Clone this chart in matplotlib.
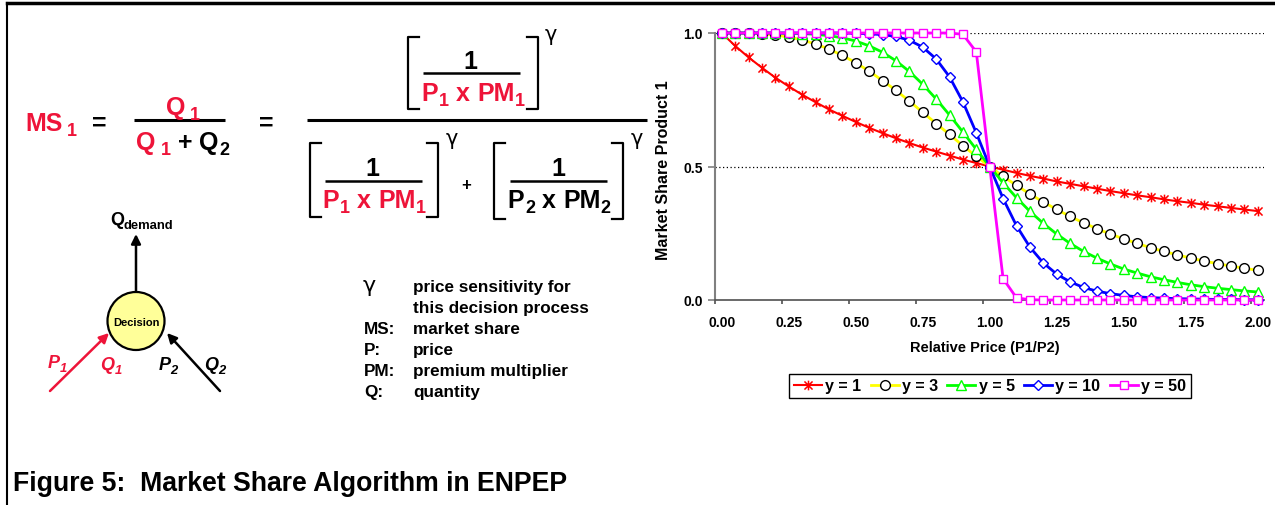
import matplotlib
matplotlib.use("Agg")
import matplotlib.pyplot as plt
from matplotlib.patches import Ellipse
from matplotlib.path import Path

plt.rcParams['font.family'] = ['Liberation Sans', 'DejaVu Sans']

# ---- data ----
rel_price = [0.00, 0.05, 0.10, 0.15, 0.20, 0.25, 0.30, 0.35, 0.40, 0.45,
             0.50, 0.55, 0.60, 0.65, 0.70, 0.75, 0.80, 0.85, 0.90, 0.95,
             1.00, 1.05, 1.10, 1.15, 1.20, 1.25, 1.30, 1.35, 1.40, 1.45,
             1.50, 1.55, 1.60, 1.65, 1.70, 1.75, 1.80, 1.85, 1.90, 1.95, 2.00]

share_g1 = [1.000, 0.952, 0.909, 0.870, 0.833, 0.800, 0.769, 0.741, 0.714, 0.690,
            0.667, 0.645, 0.625, 0.606, 0.588, 0.571, 0.556, 0.541, 0.526, 0.513,
            0.500, 0.488, 0.476, 0.465, 0.455, 0.444, 0.435, 0.426, 0.417, 0.408,
            0.400, 0.392, 0.385, 0.377, 0.370, 0.364, 0.357, 0.351, 0.345, 0.339, 0.333]

share_g3 = [1.000, 1.000, 0.999, 0.997, 0.992, 0.985, 0.974, 0.959, 0.940, 0.916,
            0.889, 0.857, 0.822, 0.785, 0.745, 0.703, 0.661, 0.620, 0.578, 0.538,
            0.500, 0.463, 0.429, 0.397, 0.367, 0.339, 0.313, 0.289, 0.267, 0.247,
            0.229, 0.212, 0.196, 0.182, 0.169, 0.157, 0.146, 0.136, 0.127, 0.119, 0.111]

share_g5 = [1.000, 1.000, 1.000, 1.000, 1.000, 0.999, 0.998, 0.995, 0.990, 0.982,
            0.970, 0.952, 0.928, 0.896, 0.856, 0.808, 0.753, 0.693, 0.629, 0.564,
            0.500, 0.439, 0.383, 0.332, 0.287, 0.247, 0.212, 0.182, 0.157, 0.135,
            0.116, 0.101, 0.087, 0.076, 0.066, 0.057, 0.050, 0.044, 0.039, 0.034, 0.030]

share_g10 = [1.000, 1.000, 1.000, 1.000, 1.000, 1.000, 1.000, 1.000, 1.000, 1.000,
             0.999, 0.997, 0.994, 0.987, 0.973, 0.947, 0.903, 0.836, 0.742, 0.626,
             0.500, 0.380, 0.278, 0.198, 0.139, 0.097, 0.068, 0.047, 0.033, 0.024,
             0.017, 0.012, 0.009, 0.007, 0.005, 0.004, 0.003, 0.002, 0.002, 0.001, 0.001]

share_g50 = [1.000, 1.000, 1.000, 1.000, 1.000, 1.000, 1.000, 1.000, 1.000, 1.000,
             1.000, 1.000, 1.000, 1.000, 1.000, 1.000, 1.000, 1.000, 0.995, 0.929,
             0.500, 0.080, 0.008, 0.001, 0.000, 0.000, 0.000, 0.000, 0.000, 0.000,
             0.000, 0.000, 0.000, 0.000, 0.000, 0.000, 0.000, 0.000, 0.000, 0.000, 0.000]

series_labels = ['y = 1', 'y = 3', 'y = 5', 'y = 10', 'y = 50']
x_ticklabels = ['0.00', '0.25', '0.50', '0.75', '1.00', '1.25', '1.50', '1.75', '2.00']
y_ticklabels = ['0.0', '0.5', '1.0']

W, H = 1275, 506
RED = '#EE1439'
GREEK = ['DejaVu Sans']

fig = plt.figure(figsize=(W / 100, H / 100), dpi=100)

# overlay in pixel coordinates for the formula and the little diagram
ov = fig.add_axes([0, 0, 1, 1], zorder=0)
ov.set_xlim(0, W)
ov.set_ylim(H, 0)
ov.axis('off')
rend = fig.canvas.get_renderer()


def rich(x, y, pieces, size, ha='center', style='normal'):
    # pieces: (text, colour, subscript?, gap before in px)
    arts, cx = [], 0.0
    for s, col, sub, gap in pieces:
        cx += gap
        fs = size * 0.72 if sub else size
        dy = size * 0.3 if sub else 0
        t = ov.text(x + cx, y + dy, s, fontsize=fs, color=col, fontweight='bold',
                    fontstyle=style, ha='left', va='baseline')
        cx += t.get_window_extent(rend).width
        arts.append(t)
    if ha == 'center':
        for t in arts:
            t.set_x(t.get_position()[0] - cx / 2)


def bracket(x0, x1, y0, y1, serif=11):
    ov.plot([x0 + serif, x0, x0, x0 + serif], [y0, y0, y1, y1], color='k', lw=1.6)
    ov.plot([x1 - serif, x1, x1, x1 - serif], [y0, y0, y1, y1], color='k', lw=1.6)


def hline(x0, x1, y, lw=2.2):
    ov.plot([x0, x1], [y, y], color='k', lw=lw, solid_capstyle='butt')


# frame of the figure
ov.plot([7, W], [4, 4], color='k', lw=2.5)
ov.plot([7, 7], [4, H], color='k', lw=1.5)

# MS1 = Q1 / (Q1 + Q2)
F = 18
rich(25, 131, [("MS", RED, False, 0), ("1", RED, True, 5)], F, ha='left')
ov.text(99, 131, "=", fontsize=F, fontweight='bold', ha='center', va='baseline')
rich(183, 115, [("Q", RED, False, 0), ("1", RED, True, 5)], F)
hline(134, 225, 121)
rich(183, 150, [("Q", RED, False, 0), ("1", RED, True, 5), ("+", 'k', False, 7),
                ("Q", 'k', False, 7), ("2", 'k', True, 1)], F)
ov.text(266, 131, "=", fontsize=F, fontweight='bold', ha='center', va='baseline')

# big fraction
hline(307, 647, 121)
p1 = [("P", RED, False, 0), ("1", RED, True, 1), ("x", RED, False, 7),
      ("PM", RED, False, 7), ("1", RED, True, 0)]
p2 = [("P", 'k', False, 0), ("2", 'k', True, 1), ("x", 'k', False, 7),
      ("PM", 'k', False, 7), ("2", 'k', True, 0)]

ov.text(470, 69, "1", fontsize=F, fontweight='bold', ha='center', va='baseline')
hline(423, 520, 74, lw=1.8)
rich(473, 101, p1, F)
bracket(408, 538, 38, 110)
ov.text(551, 35, "γ", fontsize=15, family=GREEK, ha='center', va='center')

ov.text(372, 176, "1", fontsize=F, fontweight='bold', ha='center', va='baseline')
hline(325, 422, 182, lw=1.8)
rich(374, 208, p1, F)
bracket(310, 438, 144, 218)
ov.text(452, 139, "γ", fontsize=15, family=GREEK, ha='center', va='center')

ov.text(466, 185, "+", fontsize=12, fontweight='bold', ha='center', va='center')

ov.text(558, 176, "1", fontsize=F, fontweight='bold', ha='center', va='baseline')
hline(510, 607, 182, lw=1.8)
rich(559, 208, p2, F)
bracket(494, 623, 144, 220)
ov.text(637, 139, "γ", fontsize=15, family=GREEK, ha='center', va='center')

# decision diagram
rich(110, 225, [("Q", 'k', False, 0), ("demand", 'k', True, 0)], 13, ha='left')
arr = dict(arrowstyle='-|>', lw=1.8, mutation_scale=14, shrinkA=0, shrinkB=0)
ov.annotate('', xy=(136, 235), xytext=(136, 293), arrowprops=dict(color='k', **arr))
ov.add_patch(Ellipse((136, 322), 57, 58, facecolor='#FFFF99', edgecolor='k', lw=1.6, zorder=3))
ov.text(136, 323, "Decision", fontsize=8, fontweight='bold', ha='center', va='center', zorder=4)
ov.annotate('', xy=(109, 334), xytext=(50, 392), arrowprops=dict(color=RED, **arr))
ov.annotate('', xy=(167, 334), xytext=(220, 392), arrowprops=dict(color='k', **arr))
rich(57, 368, [("P", RED, False, 0), ("1", RED, True, 0)], 13, style='italic')
rich(111, 370, [("Q", RED, False, 0), ("1", RED, True, 0)], 13, style='italic')
rich(168, 370, [("P", 'k', False, 0), ("2", 'k', True, 0)], 13, style='italic')
rich(215, 370, [("Q", 'k', False, 0), ("2", 'k', True, 0)], 13, style='italic')

# symbol list
ov.text(363, 292, "γ", fontsize=16, family=GREEK, ha='left', va='baseline')
defs = [("", "price sensitivity for"), ("", "this decision process"),
        ("MS:", "market share"), ("P:", "price"),
        ("PM:", "premium multiplier"), ("Q:", "quantity")]
for i, (k, v) in enumerate(defs):
    yb = 292 + 21 * i
    ov.text(364, yb, k, fontsize=12.3, fontweight='bold', ha='left', va='baseline')
    ov.text(413, yb, v, fontsize=12.3, fontweight='bold', ha='left', va='baseline')

ov.text(13, 491, "Figure 5:  Market Share Algorithm in ENPEP", fontsize=19.2,
        fontweight='bold', ha='left', va='baseline')

# ---- the chart ----
ax = fig.add_axes([715 / W, 1 - 301 / H, 549.4 / W, 267 / H], zorder=2)
ax.patch.set_alpha(0)
ax.set_xlim(-0.025, 2.025)
ax.set_ylim(0, 1)

star = Path([(-1, -1), (1, 1), (-1, 1), (1, -1), (0, -1.2), (0, 1.2)],
            [Path.MOVETO, Path.LINETO, Path.MOVETO, Path.LINETO, Path.MOVETO, Path.LINETO])

ax.axhline(0.5, color='k', ls=(0, (1, 2)), lw=0.9, zorder=1)
ax.axhline(1.0, color='k', ls=(0, (1, 2)), lw=0.9, zorder=1)

ax.plot(rel_price, share_g1, color='#FF0000', lw=1.5, marker=star, ms=7,
        mec='#FF0000', mew=1.1, clip_on=False, label=series_labels[0], zorder=3)
ax.plot(rel_price, share_g3, color='#FFFF00', lw=2, marker='o', ms=7,
        mfc='white', mec='black', mew=1.0, clip_on=False, label=series_labels[1], zorder=4)
ax.plot(rel_price, share_g5, color='#00FF00', lw=2, marker='^', ms=7,
        mfc='white', mec='#00FF00', mew=1.0, clip_on=False, label=series_labels[2], zorder=5)
ax.plot(rel_price, share_g10, color='#0000FF', lw=2, marker='D', ms=5.5,
        mfc='white', mec='#0000FF', mew=1.0, clip_on=False, label=series_labels[3], zorder=6)
ax.plot(rel_price, share_g50, color='#FF00FF', lw=2, marker='s', ms=6,
        mfc='white', mec='#FF00FF', mew=1.0, clip_on=False, label=series_labels[4], zorder=7)

for s in ['top', 'right']:
    ax.spines[s].set_visible(False)
ax.spines['left'].set_color('#808080')
ax.spines['left'].set_linewidth(1.5)
ax.spines['bottom'].set_color('#505050')
ax.spines['bottom'].set_linewidth(1.2)

ax.set_yticks([0, 0.5, 1.0])
ax.set_yticklabels(y_ticklabels, fontsize=10, fontweight='bold')
ax.tick_params(axis='y', direction='out', length=5, width=1.2, color='#808080', pad=4)

ax.set_xticks([-0.025 + 0.25 * k for k in range(9)])
ax.set_xticklabels([])
ax.tick_params(axis='x', which='major', direction='out', length=3, width=1.2, color='#505050')
ax.set_xticks([0.25 * k for k in range(9)], minor=True)
ax.set_xticklabels(x_ticklabels, minor=True, fontsize=10, fontweight='bold')
ax.tick_params(axis='x', which='minor', length=0, pad=11)

ax.set_xlabel("Relative Price (P1/P2)", fontsize=10.5, fontweight='bold')
ax.xaxis.set_label_coords(0.491, -0.176)
ax.xaxis.label.set_va('center')
ax.set_ylabel("Market Share Product 1", fontsize=11.5, fontweight='bold')
ax.yaxis.set_label_coords(-0.0946, 0.49)
ax.yaxis.label.set_va('center')

leg = ax.legend(loc='center', bbox_to_anchor=(0.5005, -0.322), ncol=5, frameon=True,
                fancybox=False, edgecolor='black', framealpha=1, numpoints=1,
                prop=dict(weight='bold', size=11.5), handlelength=1.75,
                handletextpad=0.2, columnspacing=0.6, borderpad=0.3, borderaxespad=0)
leg.get_frame().set_linewidth(1.0)

fig.savefig('out.png', dpi=100)
